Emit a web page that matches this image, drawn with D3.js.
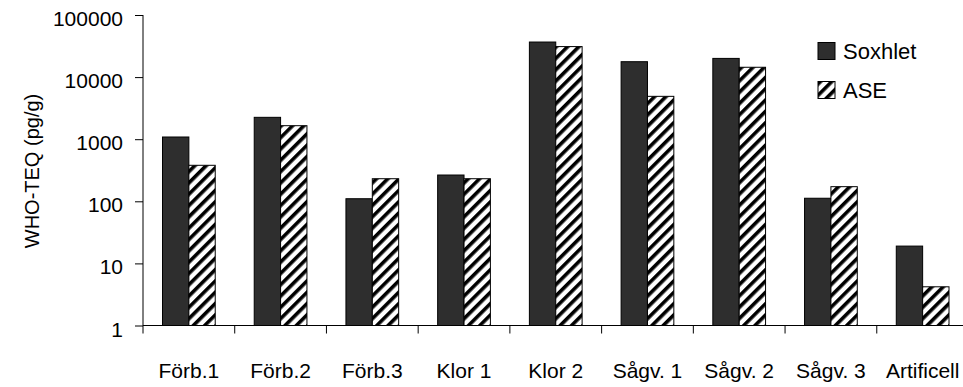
<!DOCTYPE html>
<html lang="sv">
<head>
  <meta charset="UTF-8">
  <title>WHO-TEQ</title>
  <style>
    body { margin: 0; background: #fff; }
    text { font-family: "Liberation Sans", Arial, sans-serif; fill: #000; }
  </style>
</head>
<body>
  <svg></svg>
  <script src="https://cdn.jsdelivr.net/npm/d3@7"></script>
  <script>
    const categories = ["Förb.1", "Förb.2", "Förb.3", "Klor 1", "Klor 2", "Sågv. 1", "Sågv. 2", "Sågv. 3", "Artificell"]
    const soxhlet = [1085, 2250, 110, 265, 36700, 17700, 20000, 112, 19]
    const ase = [380, 1650, 231, 231, 31000, 4900, 14400, 172, 4.2]
    const seriesNames = ["Soxhlet", "ASE"]
    const yTicks = [1, 10, 100, 1000, 10000, 100000]

    var width = 963
    var height = 387
    var svg = d3.select("svg")
              .attr("width", width)
              .attr("height", height)

    // diagonal hatching for ASE
    var defs = svg.append("defs")
    defs.append("pattern")
        .attr("id", "hatch")
        .attr("patternUnits", "userSpaceOnUse")
        .attr("width", 8)
        .attr("height", 8)
        .attr("patternTransform", "rotate(45)")
      .call(p => {
        p.append("rect").attr("width", 8).attr("height", 8).attr("fill", "#fff")
        p.append("rect").attr("x", 0).attr("width", 3.6).attr("height", 8).attr("fill", "#000")
      })

    var x = d3.scaleBand()
            .domain(categories)
            .range([143, 968.5])
    var inner = d3.scaleBand()
            .domain(seriesNames)
            .range([19.5, x.bandwidth() - 19.5])
    var y = d3.scaleLog()
            .domain([1, 100000])
            .range([325.5, 15])

    const fills = {Soxhlet: "#2e2e2e", ASE: "url(#hatch)"}
    const rows = categories.map((c, i) => ({cat: c, vals: [
      {key: "Soxhlet", v: soxhlet[i]},
      {key: "ASE", v: ase[i]}
    ]}))

    svg.append("g")
      .selectAll("g")
      .data(rows)
      .join("g")
        .attr("transform", d => `translate(${x(d.cat)},0)`)
      .selectAll("rect")
      .data(d => d.vals)
      .join("rect")
        .attr("x", d => inner(d.key))
        .attr("y", d => y(d.v))
        .attr("width", inner.bandwidth())
        .attr("height", d => y(1) - y(d.v))
        .attr("fill", d => fills[d.key])
        .attr("stroke", "#000")
        .attr("stroke-width", 1)

    // y axis
    var yAxis = svg.append("g")
      .attr("transform", "translate(143,0)")
      .call(d3.axisLeft(y).tickValues(yTicks).tickFormat(d3.format("d")).tickSize(8).tickPadding(12))
    yAxis.select(".domain").attr("d", `M0,${y(100000)}V${y(1) + 8}`)
    yAxis.selectAll("text").attr("font-size", 21).attr("font-family", null).attr("dy", "0.5em")
    yAxis.selectAll("line,path").attr("stroke", "#000")

    // x axis
    var xAxis = svg.append("g")
      .attr("transform", `translate(0,${y(1)})`)
      .call(d3.axisBottom(x).tickSize(0).tickPadding(38))
    xAxis.select(".domain").attr("d", `M143,0H968.5`).attr("stroke", "#000")
    xAxis.selectAll("text").attr("font-size", 21).attr("font-family", null)
    xAxis.selectAll(".sep")
      .data(categories.slice(1))
      .join("line")
        .attr("class", "sep")
        .attr("x1", d => x(d)).attr("x2", d => x(d))
        .attr("y1", 0).attr("y2", 8)
        .attr("stroke", "#000")

    svg.append("text")
      .attr("transform", "translate(39,171) rotate(-90)")
      .attr("text-anchor", "middle")
      .attr("font-size", 20)
      .text("WHO-TEQ (pg/g)")

    // legend
    var legend = svg.append("g")
      .selectAll("g")
      .data(seriesNames)
      .join("g")
        .attr("transform", (d, i) => `translate(818,${42.5 + i * 39})`)
    legend.append("rect")
      .attr("width", 17).attr("height", 17)
      .attr("fill", d => fills[d])
      .attr("stroke", "#000")
    legend.append("text")
      .attr("x", 25).attr("y", 16.5)
      .attr("font-size", 22)
      .text(d => d)
  </script>
</body>
</html>
